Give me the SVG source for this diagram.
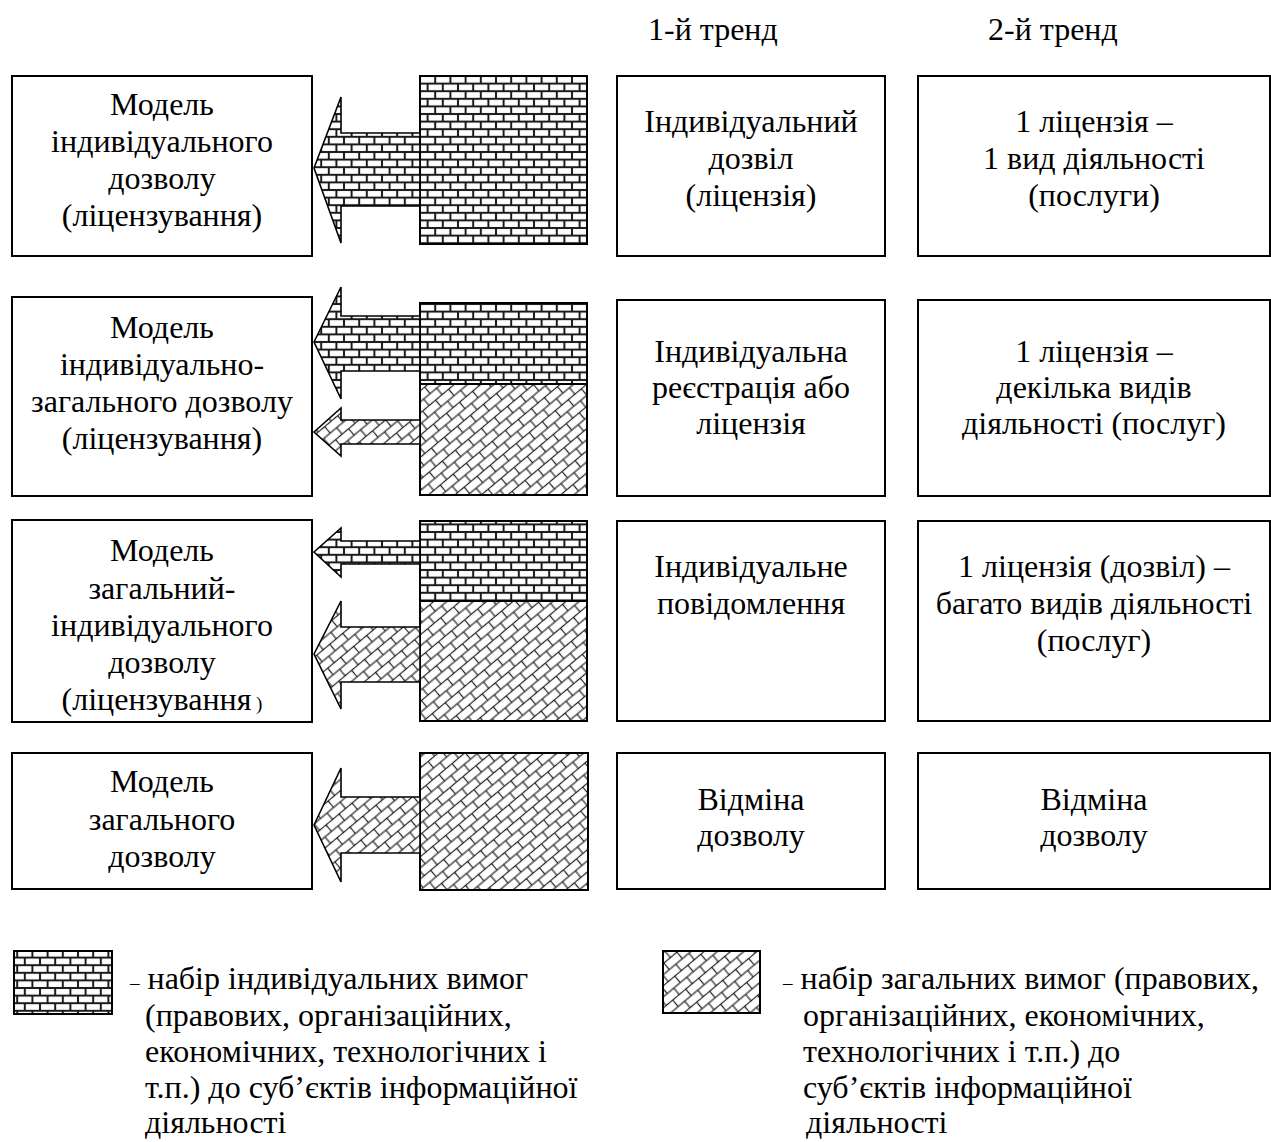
<svg xmlns="http://www.w3.org/2000/svg" width="1271" height="1142" viewBox="0 0 1271 1142">
<style>
text{font-family:"Liberation Serif","Times New Roman",serif;font-size:32px;fill:#000}
.c{text-anchor:middle}
.box{fill:#fff;stroke:#000;stroke-width:2}
.sq{stroke:#000;stroke-width:2}
.arr{stroke:#000;stroke-width:1.6;stroke-linejoin:miter}
.dash{font-size:19px}
</style>
<defs>
<pattern id="brick" patternUnits="userSpaceOnUse" width="15.2" height="15.2" x="420" y="0">
<rect width="15.2" height="15.2" fill="#1a1a1a"/>
<rect x="1" y="1" width="13.2" height="5.6" fill="#fff"/>
<rect x="-6.6" y="8.6" width="13.2" height="5.6" fill="#fff"/>
<rect x="8.6" y="8.6" width="13.2" height="5.6" fill="#fff"/>
</pattern>
<pattern id="diag" patternUnits="userSpaceOnUse" width="17" height="17" patternTransform="rotate(-40)">
<rect width="17" height="17" fill="#222"/>
<rect x="0.6" y="0.6" width="15.8" height="7.3" fill="#fff"/>
<rect x="-7.9" y="9.1" width="15.8" height="7.3" fill="#fff"/>
<rect x="9.1" y="9.1" width="15.8" height="7.3" fill="#fff"/>
</pattern>
</defs>
<rect width="1271" height="1142" fill="#fff"/>

<g id="headers">
<text x="648" y="40">1-й тренд</text>
<text x="988" y="40">2-й тренд</text>
</g>

<g id="model1"><rect class="box" x="12" y="76" width="300" height="180"/>
<text class="c" x="162" y="115">Модель</text><text class="c" x="162" y="152">індивідуального</text><text class="c" x="162" y="189">дозволу</text><text class="c" x="162" y="226">(ліцензування)</text></g>
<g id="model2"><rect class="box" x="12" y="297" width="300" height="199"/>
<text class="c" x="162" y="338">Модель</text><text class="c" x="162" y="375">індивідуально-</text><text class="c" x="162" y="412">загального дозволу</text><text class="c" x="162" y="449">(ліцензування)</text></g>
<g id="model3"><rect class="box" x="12" y="520" width="300" height="202"/>
<text class="c" x="162" y="561">Модель</text><text class="c" x="162" y="599">загальний-</text><text class="c" x="162" y="636">індивідуального</text><text class="c" x="162" y="673">дозволу</text><text class="c" x="162" y="710">(ліцензування<tspan font-size="19"> )</tspan></text></g>
<g id="model4"><rect class="box" x="12" y="753" width="300" height="136"/>
<text class="c" x="162" y="792">Модель</text><text class="c" x="162" y="830">загального</text><text class="c" x="162" y="867">дозволу</text></g>

<g id="req1"><rect class="sq" x="420" y="76" width="167" height="168" fill="url(#brick)"/></g>
<g id="req2"><rect class="sq" x="420" y="303" width="167" height="81" fill="url(#brick)"/><rect class="sq" x="420" y="384" width="167" height="111" fill="url(#diag)"/></g>
<g id="req3"><rect class="sq" x="420" y="521" width="167" height="80" fill="url(#brick)"/><rect class="sq" x="420" y="601" width="167" height="120" fill="url(#diag)"/></g>
<g id="req4"><rect class="sq" x="420" y="753" width="168" height="137" fill="url(#diag)"/></g>

<g id="connectors">
<polygon class="arr" fill="url(#brick)" points="314,168 341,97 341,133 420,133 420,206 341,206 341,243"/>
<polygon class="arr" fill="url(#brick)" points="314,342 341,287 341,316 420,316 420,371 341,371 341,399"/>
<polygon class="arr" fill="url(#diag)" points="314,432 341,408 341,420 420,420 420,444 341,444 341,456"/>
<polygon class="arr" fill="url(#brick)" points="314,552 341,528 341,541 420,541 420,564 341,564 341,577"/>
<polygon class="arr" fill="url(#diag)" points="314,654 341,601 341,627 420,627 420,682 341,682 341,709"/>
<polygon class="arr" fill="url(#diag)" points="314,825 341,768 341,797 420,797 420,853 341,853 341,882"/>
</g>

<g id="trend1-1"><rect class="box" x="617" y="76" width="268" height="180"/>
<text class="c" x="751" y="132">Індивідуальний</text><text class="c" x="751" y="169">дозвіл</text><text class="c" x="751" y="206">(ліцензія)</text></g>
<g id="trend1-2"><rect class="box" x="617" y="300" width="268" height="196"/>
<text class="c" x="751" y="362">Індивідуальна</text><text class="c" x="751" y="398">реєстрація або</text><text class="c" x="751" y="434">ліцензія</text></g>
<g id="trend1-3"><rect class="box" x="617" y="521" width="268" height="200"/>
<text class="c" x="751" y="577">Індивідуальне</text><text class="c" x="751" y="614">повідомлення</text></g>
<g id="trend1-4"><rect class="box" x="617" y="753" width="268" height="136"/>
<text class="c" x="751" y="810">Відміна</text><text class="c" x="751" y="846">дозволу</text></g>

<g id="trend2-1"><rect class="box" x="918" y="76" width="352" height="180"/>
<text class="c" x="1094" y="132">1 ліцензія –</text><text class="c" x="1094" y="169">1 вид діяльності</text><text class="c" x="1094" y="206">(послуги)</text></g>
<g id="trend2-2"><rect class="box" x="918" y="300" width="352" height="196"/>
<text class="c" x="1094" y="362">1 ліцензія –</text><text class="c" x="1094" y="398">декілька видів</text><text class="c" x="1094" y="434">діяльності (послуг)</text></g>
<g id="trend2-3"><rect class="box" x="918" y="521" width="352" height="200"/>
<text class="c" x="1094" y="577">1 ліцензія (дозвіл) –</text><text class="c" x="1094" y="614">багато видів діяльності</text><text class="c" x="1094" y="651">(послуг)</text></g>
<g id="trend2-4"><rect class="box" x="918" y="753" width="352" height="136"/>
<text class="c" x="1094" y="810">Відміна</text><text class="c" x="1094" y="846">дозволу</text></g>

<g id="legend-individual">
<rect class="sq" x="14" y="951" width="98" height="63" fill="url(#brick)"/>
<text x="130" y="989"><tspan class="dash">–</tspan> набір індивідуальних вимог</text>
<text x="145" y="1026">(правових, організаційних,</text>
<text x="145" y="1062">економічних, технологічних і</text>
<text x="145" y="1098">т.п.) до суб’єктів інформаційної</text>
<text x="145" y="1133">діяльності</text>
</g>
<g id="legend-general">
<rect class="sq" x="663" y="951" width="97" height="62" fill="url(#diag)"/>
<text x="783" y="989"><tspan class="dash">–</tspan> набір загальних вимог (правових,</text>
<text x="803" y="1026">організаційних, економічних,</text>
<text x="803" y="1062">технологічних і т.п.) до</text>
<text x="803" y="1098">суб’єктів інформаційної</text>
<text x="806" y="1133">діяльності</text>
</g>
</svg>
